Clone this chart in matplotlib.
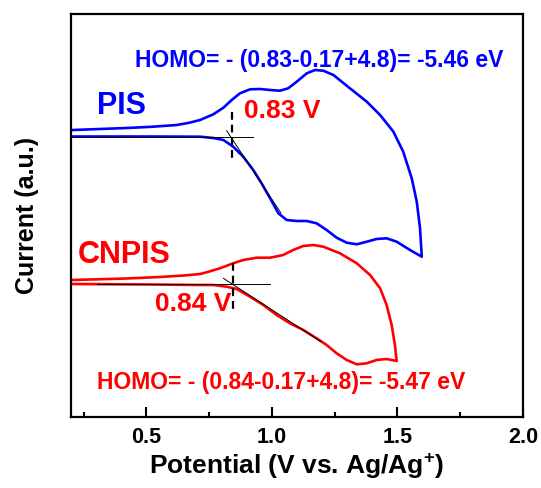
import matplotlib
matplotlib.use("Agg")
import matplotlib.pyplot as plt
from matplotlib.ticker import MultipleLocator

plt.rcParams['font.family'] = ['Liberation Sans', 'DejaVu Sans']
plt.rcParams['font.weight'] = 'bold'
plt.rcParams['mathtext.fontset'] = 'custom'
plt.rcParams['mathtext.rm'] = 'Liberation Sans:bold'
plt.rcParams['mathtext.bf'] = 'Liberation Sans:bold'
plt.rcParams['mathtext.default'] = 'bf'

# --- PIS cyclic voltammogram ---
pis_fwd_v = [0.203, 0.516, 0.714, 0.767, 0.807, 0.846, 0.886, 0.926, 0.959, 0.993, 1.026, 1.059,
             1.099, 1.139, 1.178, 1.218, 1.258, 1.298, 1.338, 1.378, 1.417, 1.457, 1.497, 1.550, 1.597]
pis_fwd_i = [28.05, 28.05, 28.03, 27.90, 27.70, 27.03, 26.03, 24.70, 23.37, 21.87, 20.37, 19.70,
             19.60, 19.60, 19.37, 18.70, 17.93, 17.43, 17.27, 17.53, 17.80, 17.87, 17.53, 16.70, 16.03]
pis_rev_v = [1.597, 1.590, 1.577, 1.557, 1.523, 1.484, 1.431, 1.378, 1.311, 1.245, 1.205, 1.172,
             1.139, 1.099, 1.065, 1.032, 0.993, 0.953, 0.913, 0.873, 0.840, 0.807, 0.767, 0.714,
             0.670, 0.621, 0.520, 0.422, 0.208]
pis_rev_i = [16.03, 18.87, 21.53, 23.87, 26.53, 28.53, 30.20, 31.53, 32.87, 34.20, 34.63, 34.70,
             34.37, 33.53, 32.87, 32.63, 32.70, 32.80, 32.77, 32.37, 31.70, 30.93, 30.27, 29.70,
             29.42, 29.20, 29.02, 28.90, 28.70]

# --- CNPIS cyclic voltammogram ---
cn_fwd_v = [0.203, 0.516, 0.714, 0.767, 0.820, 0.860, 0.913, 0.966, 1.019, 1.072, 1.125, 1.178,
            1.218, 1.258, 1.298, 1.338, 1.378, 1.417, 1.457, 1.497]
cn_fwd_i = [13.30, 13.25, 13.20, 13.20, 13.03, 12.80, 12.03, 11.20, 10.20, 9.37, 8.70, 7.87,
            7.20, 6.37, 5.70, 5.27, 5.37, 5.70, 5.80, 5.60]
cn_rev_v = [1.497, 1.490, 1.477, 1.457, 1.431, 1.391, 1.338, 1.271, 1.205, 1.165, 1.125, 1.085,
            1.045, 0.993, 0.940, 0.886, 0.846, 0.793, 0.740, 0.714, 0.650, 0.554, 0.420, 0.203]
cn_rev_i = [5.60, 7.20, 9.20, 11.20, 12.87, 14.20, 15.37, 16.37, 17.03, 17.20, 17.10, 16.70,
            16.20, 15.93, 15.93, 15.70, 15.37, 14.87, 14.47, 14.30, 14.15, 14.00, 13.85, 13.70]

# onset construction lines (baseline + tangent) and onset potentials
pis_base_v, pis_base_i = [0.20, 0.924], [27.97, 27.97]
pis_tan_v, pis_tan_i = [0.82, 1.036], [28.63, 20.40]
pis_onset_v, pis_onset_i = [0.84, 0.84], [30.53, 25.90]
cn_base_v, cn_base_i = [0.303, 0.992], [13.27, 13.27]
cn_tan_v, cn_tan_i = [0.807, 1.196], [13.87, 7.53]
cn_onset_v, cn_onset_i = [0.845, 0.845], [15.40, 10.70]

blue = '#0000FF'
red = '#FF0000'

fig = plt.figure(figsize=(5.41, 4.88), dpi=100)
ax = fig.add_axes([0.1312, 0.1455, 0.8355, 0.8258])

ax.plot(pis_fwd_v + pis_rev_v, pis_fwd_i + pis_rev_i, color=blue, lw=1.9,
        solid_joinstyle='round')
ax.plot(cn_fwd_v + cn_rev_v, cn_fwd_i + cn_rev_i, color=red, lw=1.9,
        solid_joinstyle='round')

for v, i in [(pis_base_v, pis_base_i), (pis_tan_v, pis_tan_i),
             (cn_base_v, cn_base_i), (cn_tan_v, cn_tan_i)]:
    ax.plot(v, i, color='black', lw=0.7)
for v, i in [(pis_onset_v, pis_onset_i), (cn_onset_v, cn_onset_i)]:
    ax.plot(v, i, color='black', lw=1.6, dashes=(3.5, 2.2))

ax.text(0.456, 35.7, 'HOMO= - (0.83-0.17+4.8)= -5.46 eV', color=blue, fontsize=16.5,
        fontweight='bold', ha='left', va='center')
ax.text(0.304, 31.1, 'PIS', color=blue, fontsize=22, fontweight='bold', ha='left', va='center')
ax.text(0.888, 30.6, '0.83 V', color=red, fontsize=19, fontweight='bold', ha='left', va='center')
ax.text(0.228, 16.2, 'CNPIS', color=red, fontsize=22, fontweight='bold', ha='left', va='center')
ax.text(0.536, 11.3, '0.84 V', color=red, fontsize=19, fontweight='bold', ha='left', va='center')
ax.text(0.304, 3.4, 'HOMO= - (0.84-0.17+4.8)= -5.47 eV', color=red, fontsize=16.5,
        fontweight='bold', ha='left', va='center')

ax.set_xlim(0.2, 2.0)
ax.set_ylim(0, 40.3)
ax.xaxis.set_major_locator(MultipleLocator(0.5))
ax.xaxis.set_minor_locator(MultipleLocator(0.25))
ax.set_yticks([])
ax.tick_params(axis='x', which='major', direction='in', length=7, width=1.5,
               labelsize=15.5, pad=7, top=False)
ax.tick_params(axis='x', which='minor', direction='in', length=3.5, width=1.5, top=False)
for lbl in ax.get_xticklabels():
    lbl.set_fontweight('bold')
for s in ax.spines.values():
    s.set_linewidth(1.6)

ax.set_xlabel(r'Potential (V vs. Ag/Ag$^{+}$)', fontsize=19, fontweight='bold', labelpad=3)
ax.set_ylabel('Current (a.u.)', fontsize=18, fontweight='bold', labelpad=23)

fig.savefig('out.png', dpi=100)
